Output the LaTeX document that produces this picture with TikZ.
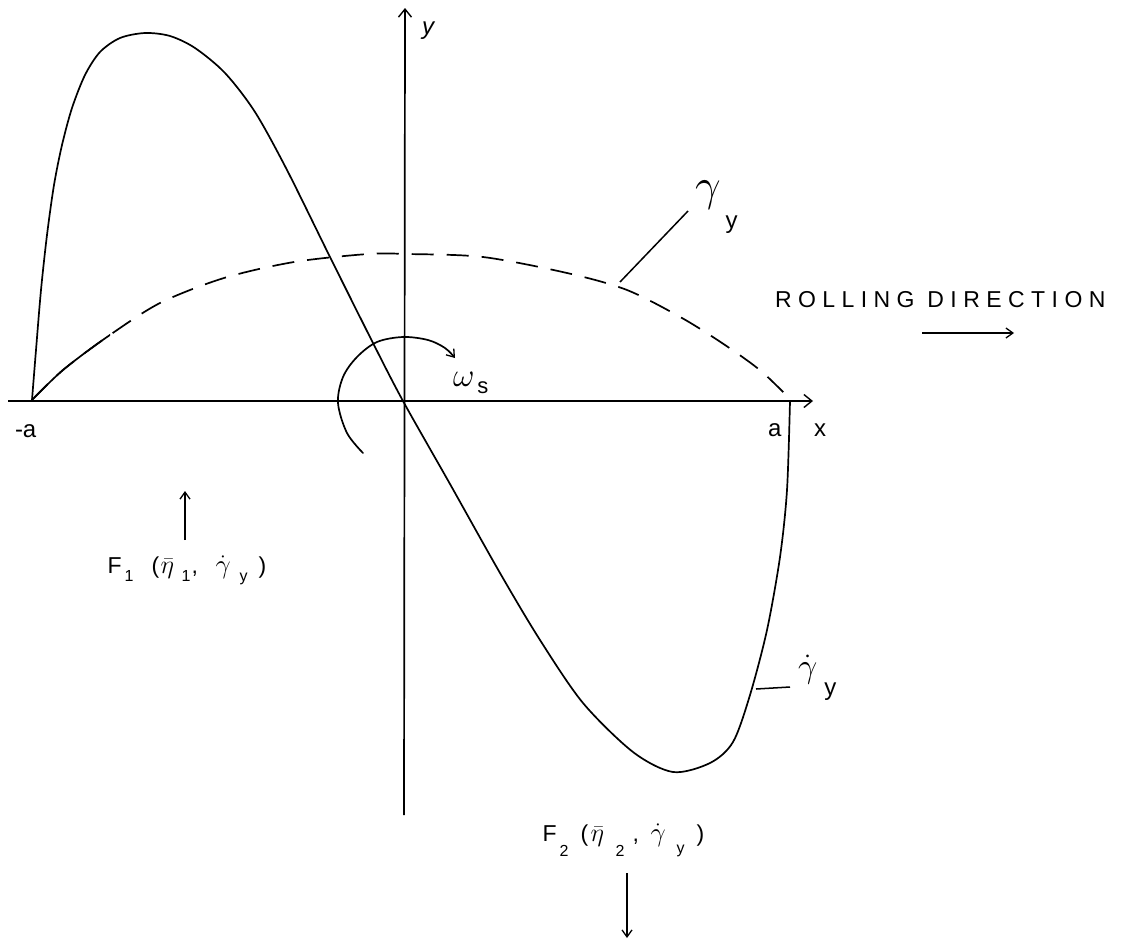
\documentclass[tikz,border=0pt]{standalone}
\usepackage{fontspec}
\setmainfont{Liberation Sans}
\usetikzlibrary{arrows.meta}
\newcommand\fsz[1]{\fontsize{#1}{#1}\selectfont}
\newcommand\lsub[2]{\raisebox{-#1}{\fsz{16}#2}}
\newcommand\at[2]{\rlap{\hspace{#1}#2}}
\newcommand\mth[2]{\scalebox{#1}{\fontsize{20.74}{20.74}\selectfont$#2$}}
\begin{document}
\begin{tikzpicture}[x=1pt,y=-1pt,
  every node/.style={inner sep=0pt,outer sep=0pt,font=\fsz{21}},
  ax/.style={line width=1.7pt,-{Straight Barb[length=8pt,width=13pt,line width=1.4pt]}},
  curve/.style={line width=1.7pt,line join=round,line cap=round},
  dashcurve/.style={line width=1.7pt,dash pattern=on 22pt off 13pt},
  thin/.style={line width=1.5pt},
  smallarrow/.style={line width=1.5pt,-{Straight Barb[length=7pt,width=10pt,line width=1.3pt]}}
]
\useasboundingbox (0,0) rectangle (1121,943);
% axes
\coordinate (xs) at (8,401);
\coordinate (xe) at (813,401);
\coordinate (ys) at (404,815);
\coordinate (ye) at (405,8);
\draw[ax] (xs) -- (xe);
\draw[ax] (ys) -- (ye);
\node[anchor=base west,font=\fsz{24}\itshape] (ylab) at (422,34) {y};
\node[anchor=base west,font=\fsz{24}] (xlab) at (814,436) {x};
\node[anchor=base west,font=\fsz{24}] (alab) at (768,436) {a};
\node[anchor=base west,font=\fsz{24}] (malab) at (15,437) {-a};
% solid curve (gamma dot)
\draw[curve] plot[smooth,tension=0.5] coordinates {(32,400) (36,350) (41,290) (47,235) (54,185) (62,145) (72,108) (85,75) (100,52) (120,38) (145,33) (170,36) (195,48) (225,73) (255,112) (287,170) (330,257) (373,343) (403,401) (450,484) (500,573) (540,640) (583,703) (633,752) (673,772) (710,763) (733,742) (750,695) (767,630) (780,557) (787,490) (790,401)};
% dashed curve (gamma)
\path[save path=\gpath] plot[smooth,tension=0.5] coordinates {(32,400) (63,370) (107,337) (160,303) (224,278) (294,262) (368,254) (408,254) (483,257) (567,273) (627,290) (682,318) (725,345) (761,371) (791,400)};
\draw[dashcurve,use path=\gpath];
\begin{scope}
\clip (0,320) rectangle (110,410);
\draw[curve,use path=\gpath];
\end{scope}
% gamma_y label
\coordinate (gl1) at (620,282);
\coordinate (gl2) at (688,211);
\draw[thin] (gl1) -- (gl2);
\node[anchor=base west] (gylab) at (695,200) {\mth{2.2}{\gamma}\hspace{5pt}\raisebox{-28pt}{\fsz{24}y}};
% gamma dot label
\coordinate (st1) at (756,689);
\coordinate (st2) at (790,687);
\draw[thin] (st1) -- (st2);
\node[anchor=base west] (gdlab) at (798,677) {\mth{1.65}{\dot\gamma}\hspace{7pt}\raisebox{-18pt}{\fsz{24}y}};
% omega_s
\draw[curve,-{Straight Barb[length=7pt,width=10pt,line width=1.3pt]}] plot[smooth,tension=0.55] coordinates {(363,453) (347,433) (338,403) (343,377) (357,357) (377,342) (403,337) (428,340) (445,348) (455,358)};
\node[anchor=base west] (wlab) at (453,386) {\mth{1.6}{\omega}\hspace{3pt}\raisebox{-7pt}{\fsz{22}s}};
% rolling direction
\node[anchor=base west,font=\fsz{23}\addfontfeature{LetterSpace=28}] (roll) at (775,307) {ROLLING DIRECTION};
\coordinate (r1) at (922,333);
\coordinate (r2) at (1014,333);
\draw[smallarrow] (r1) -- (r2);
% F1
\coordinate (f1a) at (185,540);
\coordinate (f1b) at (185,491);
\draw[smallarrow] (f1a) -- (f1b);
\node[anchor=base west,font=\fsz{23}] (f1) at (107,573) {\at{0pt}{F}\at{17pt}{\lsub{8pt}{1}}\at{44pt}{(}\at{53pt}{\mth{1.25}{\bar\eta}}\at{74pt}{\lsub{8pt}{1}}\at{84pt}{,}\at{108pt}{\mth{1.3}{\dot\gamma}}\at{132pt}{\lsub{8pt}{y}}\at{151pt}{)}\hspace{157pt}};
% F2
\node[anchor=base west,font=\fsz{23}] (f2) at (542,841) {\at{0pt}{F}\at{17pt}{\lsub{15pt}{2}}\at{38pt}{(}\at{48pt}{\mth{1.25}{\bar\eta}}\at{73pt}{\lsub{15pt}{2}}\at{90pt}{,}\at{108pt}{\mth{1.3}{\dot\gamma}}\at{134pt}{\lsub{12pt}{y}}\at{154pt}{)}\hspace{160pt}};
\coordinate (f2a) at (627,873);
\coordinate (f2b) at (627,938);
\draw[smallarrow] (f2a) -- (f2b);
\end{tikzpicture}
\end{document}
